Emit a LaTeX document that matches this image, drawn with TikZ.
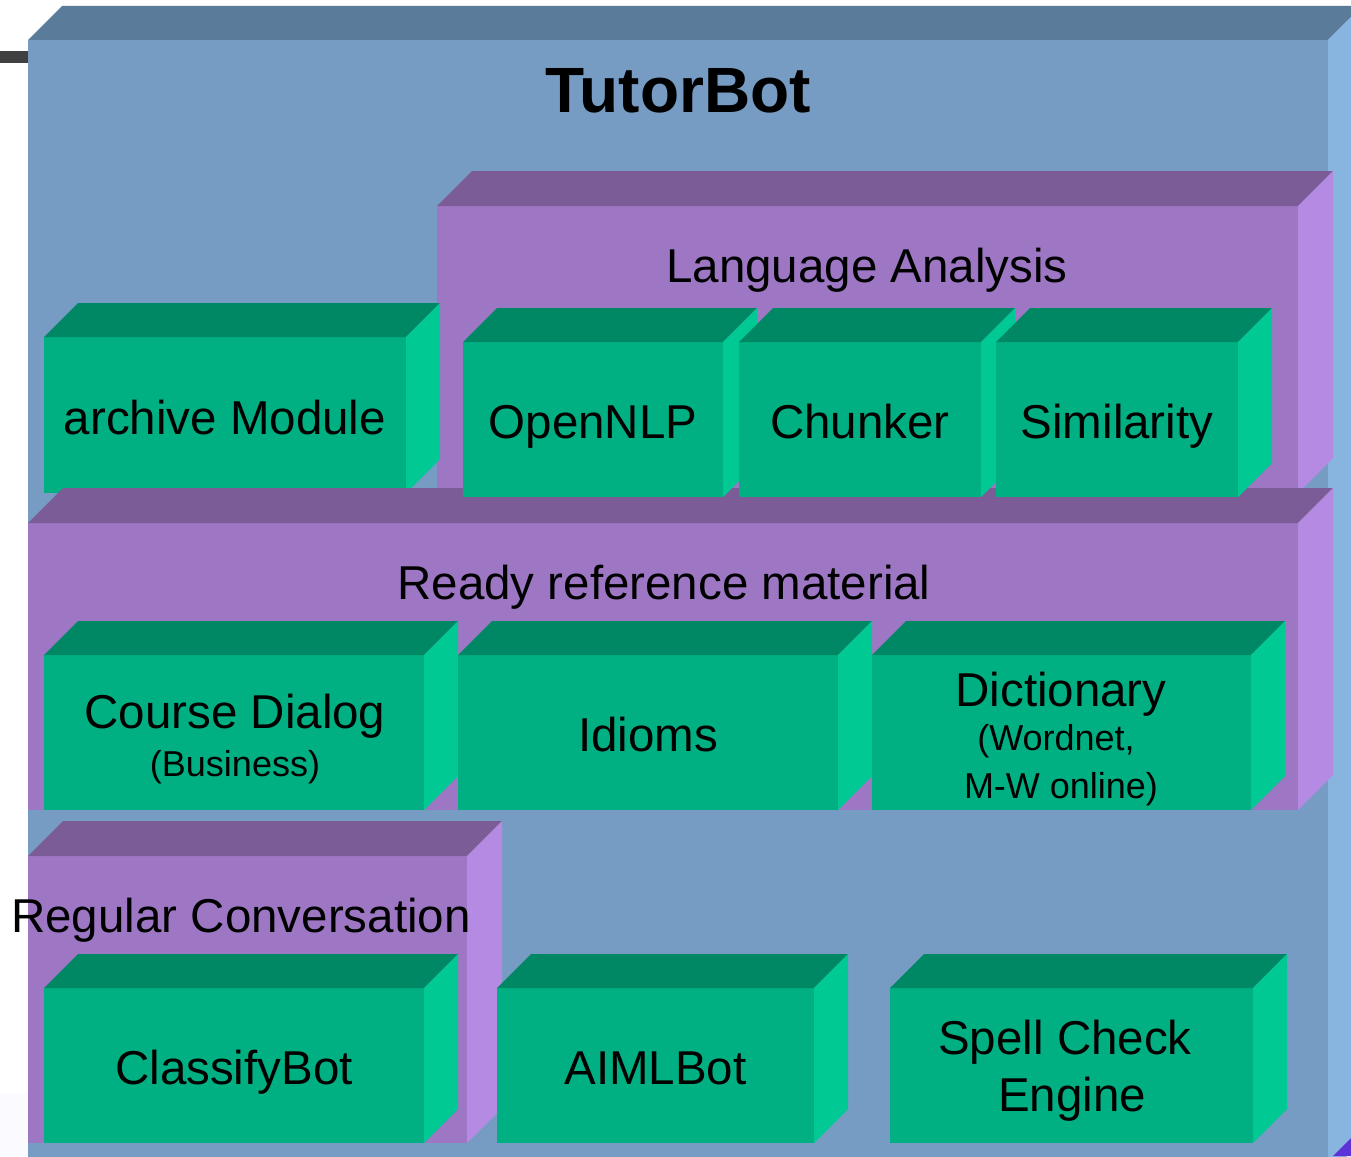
\documentclass[tikz,border=0pt]{standalone}
\usepackage{fontspec}
\setmainfont{Liberation Sans}
\definecolor{bfrontc}{HTML}{769CC4}
\definecolor{btopc}{HTML}{5B7B9B}
\definecolor{bsidec}{HTML}{88B4E0}
\definecolor{pfrontc}{HTML}{9E77C4}
\definecolor{ptopc}{HTML}{7B5C96}
\definecolor{psidec}{HTML}{B48AE2}
\definecolor{gfrontc}{HTML}{00B083}
\definecolor{gtopc}{HTML}{008865}
\definecolor{gsidec}{HTML}{00C994}
\tikzset{
  boxbase/.style={inner sep=0pt, outer sep=0pt, anchor=north west, align=center, text=black,
    font=\fontsize{47.5}{54}\selectfont, text height=38pt, text depth=0pt},
  bfront/.style={boxbase, fill=bfrontc},
  btop/.style={fill=btopc},
  bside/.style={fill=bsidec},
  pfront/.style={boxbase, fill=pfrontc},
  ptop/.style={fill=ptopc},
  pside/.style={fill=psidec},
  gfront/.style={boxbase, fill=gfrontc},
  gtop/.style={fill=gtopc},
  gside/.style={fill=gsidec},
  lbl/.style={inner sep=0pt, anchor=base, text=black, font=\fontsize{47.5}{54}\selectfont},
  smalllbl/.style={lbl, font=\fontsize{36}{40}\selectfont}
}
\newcommand\mkbox[8]{%
  \pgfmathsetmacro\bw{#4-#2}\pgfmathsetmacro\bh{#5-#3}%
  \node[#6front, minimum width=\bw pt, minimum height=\bh pt] (#1) at (#2,#3) {#8};
  \fill[#6top] (#1.north west) -- ++(#7,-#7) -- ([shift={(#7,-#7)}]#1.north east) -- (#1.north east) -- cycle;
  \fill[#6side] (#1.north east) -- ++(#7,-#7) -- ([shift={(#7,-#7)}]#1.south east) -- (#1.south east) -- cycle;
}
\begin{document}
\begin{tikzpicture}[x=1pt,y=-1pt]
\useasboundingbox (0,0) rectangle (1351,1156);
\clip (0,0) rectangle (1351,1156);
% background odds
\fill[white] (0,0) rectangle (1351,1156);
\fill[black!75] (0,51) rectangle (28,63);
\fill[blue!2!white] (0,1093) rectangle (28,1156);
% outer TutorBot box
\mkbox{outer}{28}{40}{1328}{1175}{b}{34}{}
\node[lbl, font=\fontsize{64}{70}\selectfont\bfseries] (title) at (678,112) {TutorBot};
\fill[blue!60!violet!80!white] (1333,1156) -- (1351,1138) -- (1351,1156) -- cycle;
% purple panels
\mkbox{lang}{437}{206}{1298}{493}{p}{35}{}
\node[lbl] (langl) at (867,282) {Language Analysis};
\mkbox{arch}{44}{337}{406}{493}{g}{34}{archive Module}
\mkbox{ready}{28}{523}{1298}{810}{p}{35}{}
\node[lbl] (readyl) at (664,599) {Ready reference material};
\mkbox{reg}{28}{856}{467}{1143}{p}{35}{}
\node[lbl] (regl) at (241,932) {Regular Conversation};
% green cubes, top row
\mkbox{nlp}{463}{342}{723}{497}{g}{34}{OpenNLP}
\mkbox{chunk}{739}{342}{981}{497}{g}{34}{Chunker}
\mkbox{sim}{996}{342}{1238}{497}{g}{34}{Similarity}
% middle row
\mkbox{course}{44}{655}{424}{810}{g}{34}{}
\node[lbl] (coursel1) at (235,728) {Course Dialog};
\node[smalllbl] (coursel2) at (235,776) {(Business)};
\mkbox{idioms}{458}{655}{838}{810}{g}{34}{Idioms}
\mkbox{dict}{872}{655}{1251}{810}{g}{34}{}
\node[lbl] (dictl1) at (1061,706) {Dictionary};
\node[smalllbl] (dictl2) at (1056,750) {(Wordnet,};
\node[smalllbl] (dictl3) at (1061,798) {M-W online)};
% bottom row
\mkbox{classify}{44}{988}{424}{1143}{g}{34}{ClassifyBot}
\mkbox{aiml}{497}{988}{814}{1143}{g}{34}{AIMLBot}
\mkbox{spell}{890}{988}{1253}{1143}{g}{34}{}
\node[lbl] (spelll1) at (1065,1054) {Spell Check};
\node[lbl] (spelll2) at (1072,1111) {Engine};
\end{tikzpicture}
\end{document}
